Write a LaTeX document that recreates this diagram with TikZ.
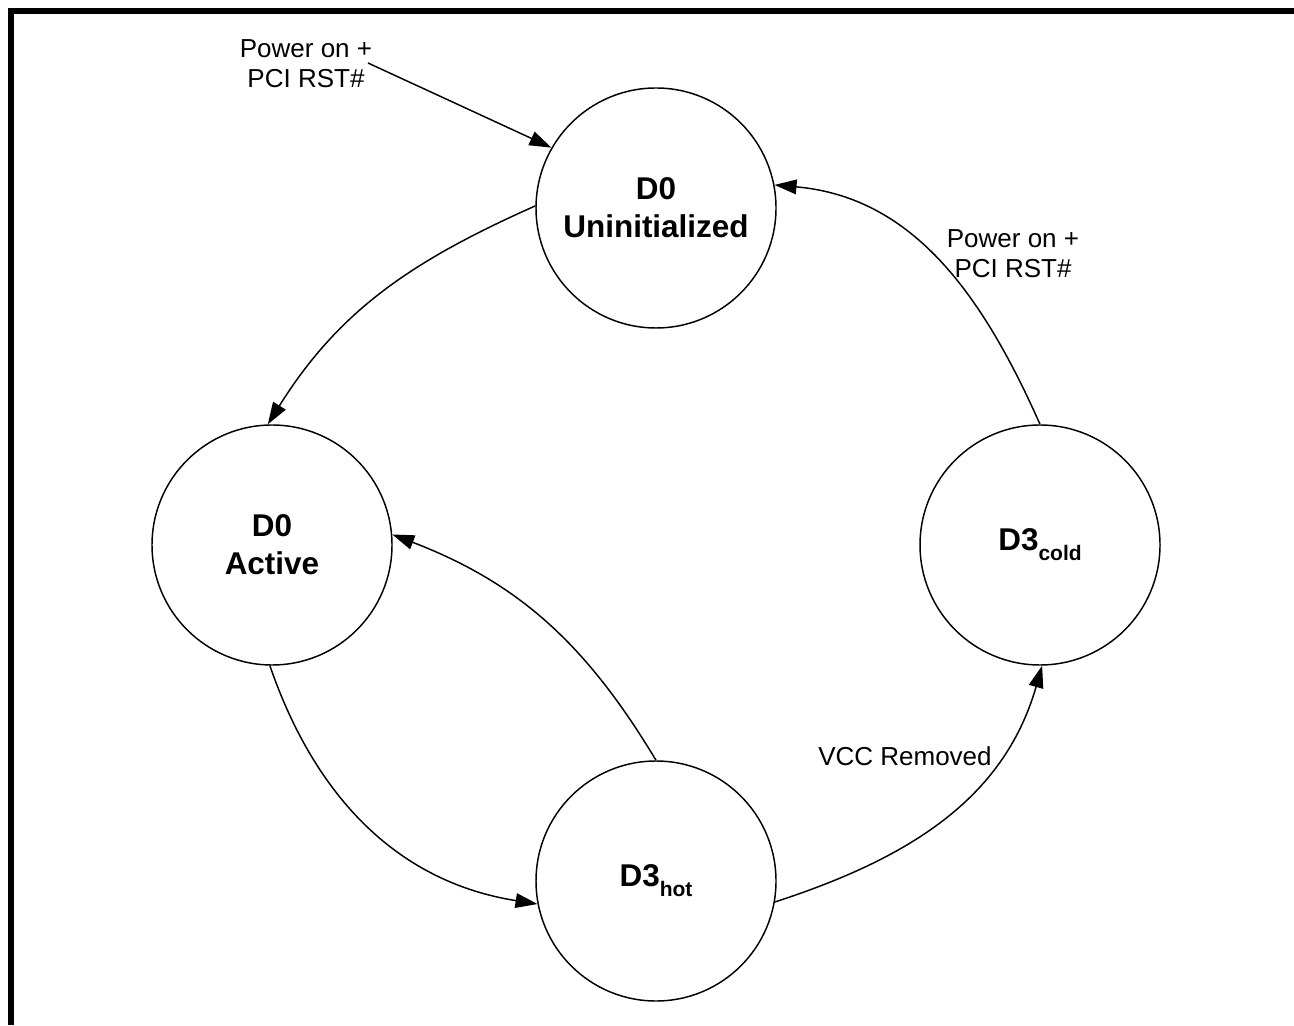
\documentclass[tikz,border=0pt]{standalone}
\usepackage{fontspec}
\setmainfont{Liberation Sans}
\usetikzlibrary{arrows.meta}
\newcommand{\lblfont}{\fontsize{19.5}{22.5}\selectfont}
\newcommand{\stfont}{\fontsize{23.6}{28.5}\selectfont\bfseries}
\newcommand{\subtxt}[1]{\raisebox{-7.5pt}{\fontsize{15.75}{18}\selectfont\bfseries #1}}
\begin{document}
\begin{tikzpicture}[x=0.75pt,y=0.75pt,
  state/.style={circle,draw,line width=1.1pt,minimum size=180pt,inner sep=0pt,align=center,font=\stfont},
  lbl/.style={align=center,font=\lblfont,inner sep=0pt},
  conn/.style={line width=1.1pt,-{Triangle[length=16.5pt,width=11pt]}}]
\useasboundingbox (0,0) rectangle (1294,1025);
% frame
\draw[line width=4.5pt,line join=miter] (11,0) -- (11,1014) -- (1294,1014);
% states
\node[state] (u) at (656,817) {D0\\Uninitialized};
\node[state] (a) at (272,480) {D0\\Active};
\node[state] (h) at (656,144) {D3\subtxt{hot}};
\node[state] (c) at (1040,480) {D3\subtxt{cold}};
% labels
\node[lbl] (lp) at (306,961.5) {Power on +\\PCI RST\#};
\node[lbl] (rp) at (1013,771) {Power on +\\PCI RST\#};
\node[lbl] (vcc) at (905,269) {VCC Removed};
\coordinate (ps) at (368,962);
% connectors
\draw[conn] (ps) -- (u.150);
\draw[conn] (u.179) to[out=204,in=58] (a.92);
\draw[conn] (c.90) to[out=114,in=-5] (u.11);
\draw[conn] (h.90) to[out=121,in=-21] (a.5);
\draw[conn] (a.269) to[out=289,in=171] (h.191);
\draw[conn] (h.-10) to[out=18,in=254] (c.271);
\end{tikzpicture}
\end{document}
